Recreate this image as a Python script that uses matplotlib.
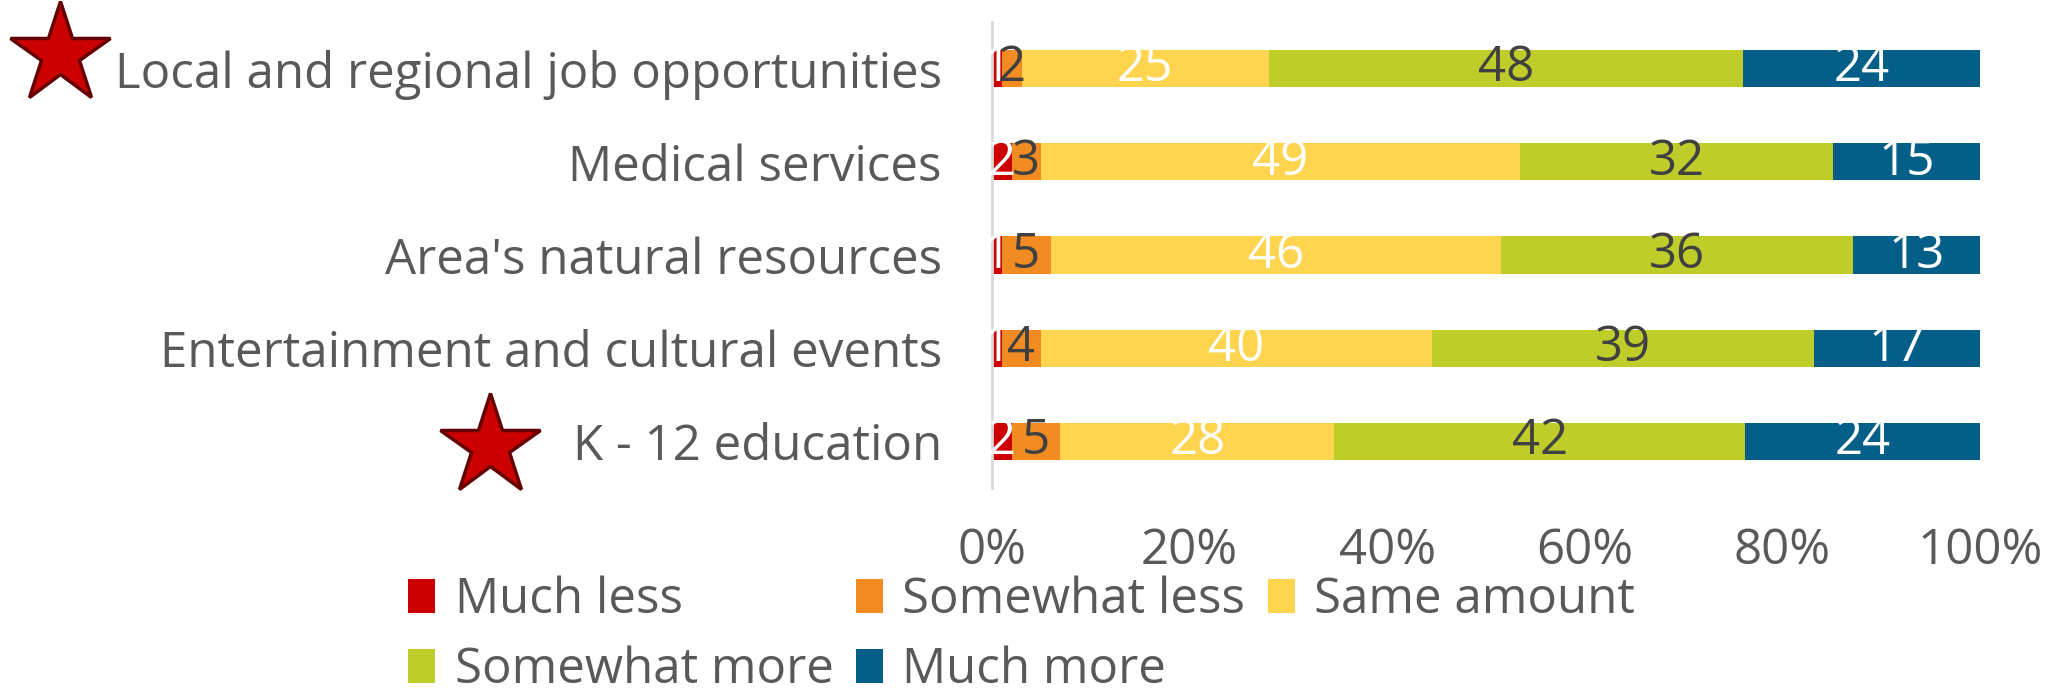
import numpy as np
import matplotlib
matplotlib.use('Agg')
import matplotlib.pyplot as plt

plt.rcParams['font.family'] = ['Open Sans', 'DejaVu Sans']

#-- Survey categories (top to bottom)
categories = ['Local and regional job opportunities',
              'Medical services',
              "Area's natural resources",
              'Entertainment and cultural events',
              'K - 12 education']

#-- Response series
series = ['Much less', 'Somewhat less', 'Same amount', 'Somewhat more', 'Much more']
much_less = [1, 2, 1, 1, 2]
somewhat_less = [2, 3, 5, 4, 5]
same_amount = [25, 49, 46, 40, 28]
somewhat_more = [48, 32, 36, 39, 42]
much_more = [24, 15, 13, 17, 24]

colors = ['#CC0000', '#F28C22', '#FFD54F', '#BECD2A', '#035F87']
label_colors = ['white', '#404040', 'white', '#404040', 'white']
xticks = [0, 20, 40, 60, 80, 100]

text_col = '#595959'
fs = 35.5

values = np.array([much_less, somewhat_less, same_amount, somewhat_more, much_more], dtype=float)
totals = values.sum(axis=0)
pct = values / totals * 100

fig = plt.figure(figsize=(20.47, 6.98), dpi=100)
ax = fig.add_axes([992 / 2047, 1 - 488 / 698, (1980 - 992) / 2047, 466 / 698])

y = np.arange(len(categories))
left = np.zeros(len(categories))
handles = []
for i in range(len(series)):
    b = ax.barh(y, pct[i], left=left, height=0.4, color=colors[i], label=series[i])
    handles.append(b)
    for j in range(len(categories)):
        ax.text(left[j] + pct[i][j] / 2, y[j], '%d' % values[i][j], ha='center', va='center',
                color=label_colors[i], fontsize=fs)
    left = left + pct[i]

ax.set_xlim(0, 100)
ax.set_ylim(len(categories) - 0.5, -0.5)
ax.set_yticks(y)
ax.set_yticklabels(categories, fontsize=fs, color=text_col)
ax.set_xticks(xticks)
ax.set_xticklabels(['%d%%' % t for t in xticks], fontsize=fs, color=text_col)
ax.tick_params(axis='both', length=0)
ax.tick_params(axis='y', pad=36)
ax.tick_params(axis='x', pad=28)
for s in ['top', 'right', 'bottom']:
    ax.spines[s].set_visible(False)
ax.spines['left'].set_color('#D9D9D9')
ax.spines['left'].set_linewidth(2)

#-- Stars marking the highlighted items
for (sx, sy) in [(60, 54), (490, 446)]:
    ax.plot(sx / 2047, 1 - sy / 698, marker='*', markersize=76, color='#CC0000',
            markeredgecolor='#660000', markeredgewidth=2.5, transform=fig.transFigure, clip_on=False)

#-- Legend: reorder so rows read left to right
order = [0, 3, 1, 4, 2]
leg = fig.legend([handles[k] for k in order], [series[k] for k in order], ncol=3,
                 loc='upper left', bbox_to_anchor=(388 / 2047, 1 - 556 / 698),
                 frameon=False, fontsize=fs, handlelength=0.55, handleheight=0.7,
                 handletextpad=0.4, columnspacing=0.45, labelspacing=0.42, borderaxespad=0)
for t in leg.get_texts():
    t.set_color(text_col)

fig.savefig('out.png', dpi=100)
